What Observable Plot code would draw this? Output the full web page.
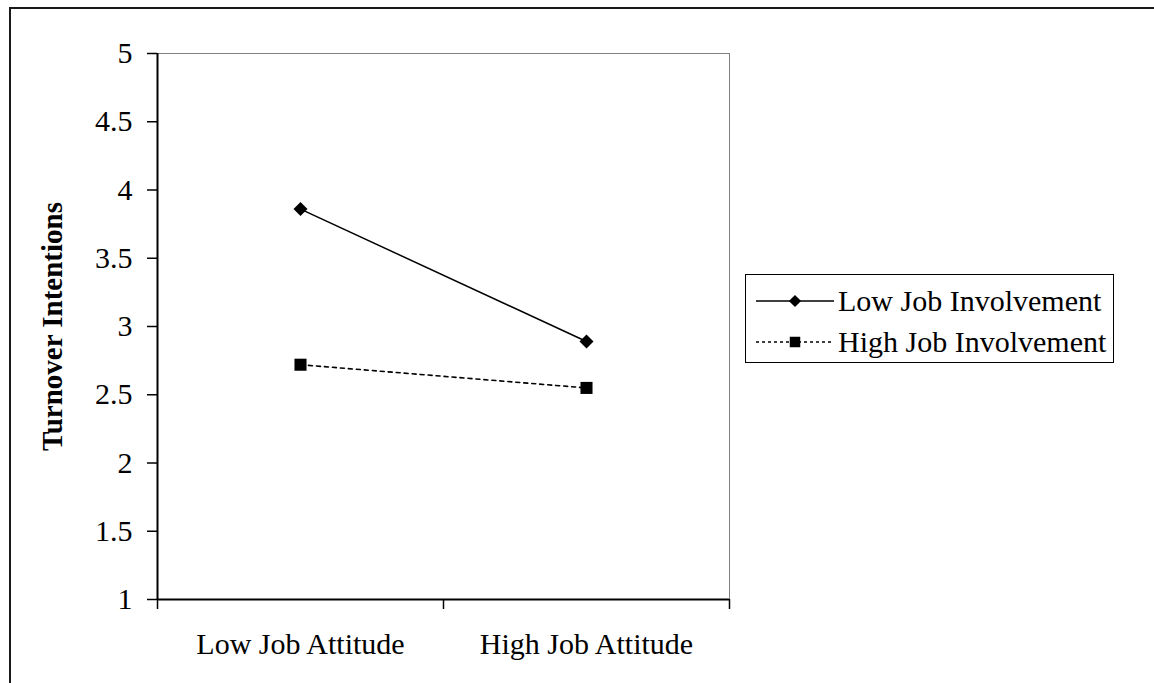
<!DOCTYPE html>
<html>
<head>
<meta charset="utf-8">
<script src="https://cdn.jsdelivr.net/npm/d3@7"></script>
<script src="https://cdn.jsdelivr.net/npm/@observablehq/plot@0.6"></script>
<style>
  html, body { margin: 0; padding: 0; background: #fff; overflow: hidden; width: 1154px; height: 683px; }
  #wrap { position: relative; width: 1154px; height: 683px; }
  #frame { position: absolute; left: 9px; top: 7px; width: 2000px; height: 2000px; border: 2px solid #1a1a1a; pointer-events: none; }
  #chart { position: absolute; left: 0; top: 0; }
  #legend { position: absolute; left: 745px; top: 274px; width: 367px; height: 87px; border: 1.5px solid #000; background: #fff;
            font-family: "Liberation Serif", "Times New Roman", serif; font-size: 30px; color: #000; box-sizing: content-box; }
  .row { position: absolute; left: 0; height: 40px; display: flex; align-items: center; white-space: nowrap; }
  .row svg { margin-left: 10px; margin-right: 4px; }
</style>
</head>
<body>
<div id="wrap">
  <div id="frame"></div>
  <div id="chart"></div>
  <div id="legend"></div>
</div>
<script>
const categories = ["Low Job Attitude", "High Job Attitude"];
const seriesNames = ["Low Job Involvement", "High Job Involvement"];
const lowInvolvement = [3.86, 2.89];
const highInvolvement = [2.72, 2.55];
const yTicks = [1, 1.5, 2, 2.5, 3, 3.5, 4, 4.5, 5];
const yLabel = "Turnover Intentions";

const lowData = categories.map((c, i) => ({pos: i + 0.5, category: c, value: lowInvolvement[i], series: seriesNames[0]}));
const highData = categories.map((c, i) => ({pos: i + 0.5, category: c, value: highInvolvement[i], series: seriesNames[1]}));
const boundaries = d3.range(categories.length + 1);
const centers = categories.map((c, i) => i + 0.5);

const chart = Plot.plot({
  width: 1154,
  height: 683,
  marginLeft: 157,
  marginRight: 425,
  marginTop: 53,
  marginBottom: 84,
  x: {domain: [0, categories.length]},
  y: {domain: [1, 5]},
  style: {fontFamily: "Liberation Serif, Times New Roman, serif", color: "#000", background: "transparent", overflow: "visible"},
  marks: [
    Plot.frame({stroke: "#808080", strokeWidth: 1}),
    Plot.line(lowData, {x: "pos", y: "value", stroke: "#000", strokeWidth: 1.5}),
    Plot.line(highData, {x: "pos", y: "value", stroke: "#000", strokeWidth: 1.6, strokeDasharray: "4,4"}),
    Plot.dot(lowData, {x: "pos", y: "value", symbol: "diamond2", r: 6.3, fill: "#000"}),
    Plot.dot(highData, {x: "pos", y: "value", symbol: "square", r: 6.8, fill: "#000"}),
    Plot.ruleX([0], {stroke: "#000", strokeWidth: 2}),
    Plot.ruleY([1], {stroke: "#000", strokeWidth: 2}),
    Plot.axisY({ticks: yTicks, tickSize: 10, tickPadding: 15, fontSize: 30, label: null, tickFormat: d => String(d), strokeWidth: 1.5}),
    Plot.axisX({ticks: boundaries, tickSize: 10, tickFormat: () => "", label: null, strokeWidth: 1.5}),
    Plot.axisX({ticks: centers, tickSize: 0, tickPadding: 33, fontSize: 30, label: null, tickFormat: d => categories[Math.floor(d)]}),
    Plot.text([yLabel], {frameAnchor: "left", textAnchor: "middle", rotate: -90, dx: -105, fontWeight: "bold", fontSize: 29, fill: "#000"})
  ]
});
document.getElementById("chart").appendChild(chart);

// Legend
const legend = d3.select("#legend");
const styles = [
  {name: seriesNames[0], dash: null, symbol: d3.symbolDiamond2, size: 95},
  {name: seriesNames[1], dash: "3,3", symbol: d3.symbolSquare, size: 110}
];
styles.forEach((s, i) => {
  const row = legend.append("div").attr("class", "row").style("top", (6 + i * 41) + "px");
  const svg = row.append("svg").attr("width", 78).attr("height", 20);
  svg.append("line").attr("x1", 0).attr("x2", 78).attr("y1", 10).attr("y2", 10)
    .attr("stroke", "#000").attr("stroke-width", 1.5).attr("stroke-dasharray", s.dash);
  svg.append("path").attr("d", d3.symbol(s.symbol, s.size)()).attr("transform", "translate(39,10)").attr("fill", "#000");
  row.append("span").text(s.name);
});
</script>
</body>
</html>
